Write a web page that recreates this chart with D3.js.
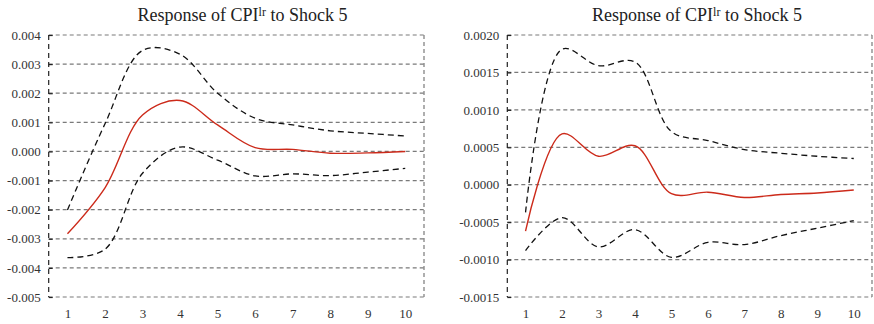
<!DOCTYPE html>
<html>
<head>
<meta charset="utf-8">
<script src="https://cdn.jsdelivr.net/npm/d3@7/dist/d3.min.js"></script>
<style>
  html, body { margin: 0; padding: 0; background: #fff; }
  svg { display: block; }
  svg text { font-family: "Liberation Serif", "Times New Roman", serif !important; }
</style>
</head>
<body>
<svg id="chart" width="874" height="324"></svg>
<script>
// Forecast horizon (periods after the shock)
const periods = [1, 2, 3, 4, 5, 6, 7, 8, 9, 10];

// Left panel: impulse response with upper / lower confidence bands
const leftResponse = [-0.00283, -0.00125, 0.00125, 0.00175, 0.00091, 0.00013, 0.00007, -0.00006, -0.00005, 0.0];
const leftUpper    = [-0.00201, 0.00095, 0.00347, 0.00334, 0.00200, 0.00114, 0.00091, 0.00071, 0.00062, 0.00053];
const leftLower    = [-0.00365, -0.00336, -0.00075, 0.00015, -0.00030, -0.00084, -0.00077, -0.00083, -0.00071, -0.00058];
const leftTicks    = [0.004, 0.003, 0.002, 0.001, 0.000, -0.001, -0.002, -0.003, -0.004, -0.005];

// Right panel
const rightResponse = [-0.00062, 0.00068, 0.00038, 0.00052, -0.00012, -0.00010, -0.00017, -0.00013, -0.00011, -0.00007];
const rightUpper    = [-0.00037, 0.00181, 0.00159, 0.00164, 0.00071, 0.00059, 0.00047, 0.00042, 0.00038, 0.00035];
const rightLower    = [-0.00088, -0.00044, -0.00083, -0.00060, -0.00097, -0.00077, -0.00080, -0.00068, -0.00058, -0.00048];
const rightTicks    = [0.0020, 0.0015, 0.0010, 0.0005, 0.0000, -0.0005, -0.0010, -0.0015];

const svg = d3.select("#chart");
const serif = "'Liberation Serif', 'Times New Roman', serif";

function drawPanel(opt) {
  const g = svg.append("g");
  const x = d3.scaleLinear().domain([0.5, 10.5]).range([opt.left, opt.right]);
  const y = d3.scaleLinear()
    .domain([d3.min(opt.ticks), d3.max(opt.ticks)])
    .range([opt.bottom, opt.top]);

  // horizontal grid lines (dashed gray)
  g.append("g").selectAll("line").data(opt.ticks).join("line")
    .attr("x1", opt.left).attr("x2", opt.right)
    .attr("y1", d => y(d)).attr("y2", d => y(d))
    .attr("stroke", "#7a7a7a").attr("stroke-width", 1.2)
    .attr("stroke-dasharray", "4,3");

  // right frame edge
  g.append("line")
    .attr("x1", opt.right).attr("x2", opt.right)
    .attr("y1", opt.top).attr("y2", opt.bottom)
    .attr("stroke", "#7a7a7a").attr("stroke-width", 1.2)
    .attr("stroke-dasharray", "4,3");

  // left axis with tick labels
  const yAxis = d3.axisLeft(y).tickValues(opt.ticks)
    .tickFormat(d => d.toFixed(opt.digits)).tickSize(4).tickPadding(4);
  const ya = g.append("g").attr("transform", `translate(${opt.left},0)`).call(yAxis)
    .attr("font-family", serif).attr("font-size", 13);
  ya.select(".domain").attr("stroke", "#222").attr("stroke-width", 1.2)
    .attr("stroke-dasharray", "5,4").attr("d", `M0,${opt.top}V${opt.bottom}`);
  ya.selectAll(".tick line").attr("stroke", "#222").attr("stroke-width", 1.2)
    .attr("x1", 0).attr("x2", 4);
  ya.selectAll(".tick text").style("font-family", serif).style("font-size", "13px")
    .attr("fill", "#333");

  // bottom axis: labels only
  const xAxis = d3.axisBottom(x).tickValues(periods).tickFormat(d3.format("d"))
    .tickSize(0).tickPadding(12);
  const xa = g.append("g").attr("transform", `translate(0,${opt.bottom})`).call(xAxis)
    .attr("font-family", serif).attr("font-size", 13);
  xa.select(".domain").remove();
  xa.selectAll(".tick text").style("font-family", serif).style("font-size", "13px")
    .attr("fill", "#333");

  const line = d3.line()
    .x((d, i) => x(periods[i]))
    .y(d => y(d))
    .curve(d3.curveCatmullRom.alpha(0.5));

  // confidence bands
  [opt.upper, opt.lower].forEach(s => {
    g.append("path").attr("d", line(s))
      .attr("fill", "none").attr("stroke", "#111").attr("stroke-width", 1.3)
      .attr("stroke-dasharray", "6,4");
  });

  // point response
  g.append("path").attr("d", line(opt.response))
    .attr("fill", "none").attr("stroke", "#cc2a1a").attr("stroke-width", 1.4);

  // title with superscript
  const t = g.append("text")
    .attr("x", opt.titleX).attr("y", 21.3)
    .attr("text-anchor", "middle").style("font-family", serif)
    .attr("font-size", 18).attr("fill", "#222");
  t.append("tspan").text("Response of CPI");
  t.append("tspan").text("lr").attr("font-size", 12).attr("dy", -5);
  t.append("tspan").text(" to Shock 5").attr("dy", 5);
}

drawPanel({
  left: 48.7, right: 424, top: 35, bottom: 297,
  ticks: leftTicks, digits: 3, titleX: 242.5,
  response: leftResponse, upper: leftUpper, lower: leftLower
});

drawPanel({
  left: 507.3, right: 872, top: 35, bottom: 297,
  ticks: rightTicks, digits: 4, titleX: 697,
  response: rightResponse, upper: rightUpper, lower: rightLower
});
</script>
</body>
</html>
